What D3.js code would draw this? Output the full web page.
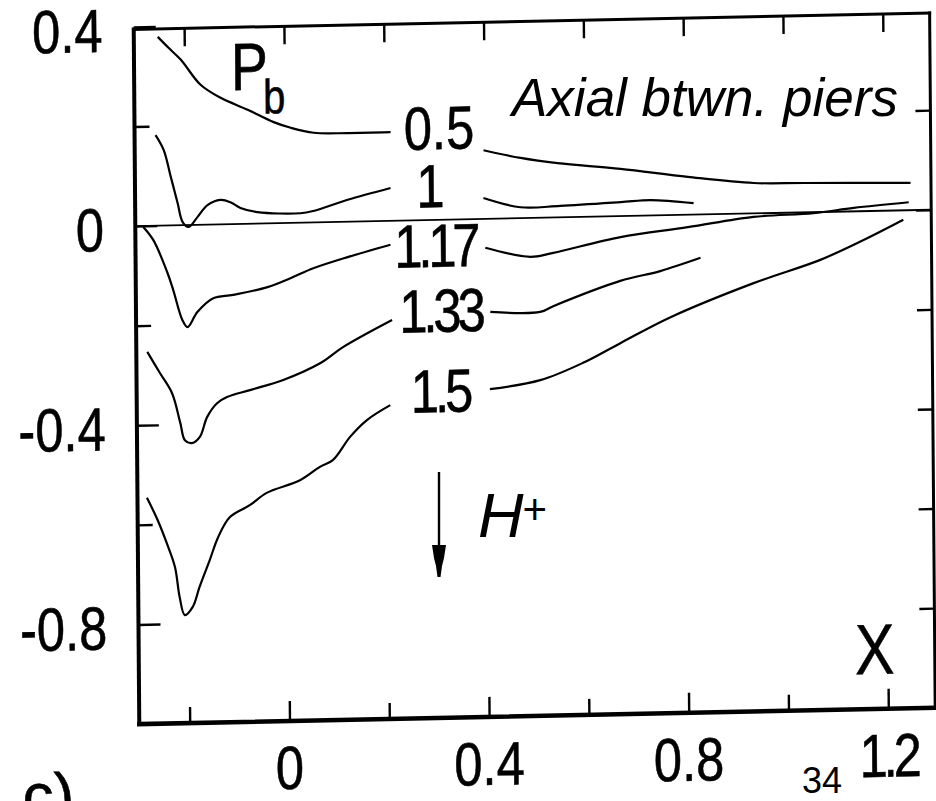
<!DOCTYPE html>
<html>
<head>
<meta charset="utf-8">
<script src="https://cdn.jsdelivr.net/npm/d3@7"></script>
<style>
  html, body { margin: 0; padding: 0; background: #fff; overflow: hidden; }
  svg { display: block; }
  .scan { font-family: "Liberation Sans", Arial, Helvetica, sans-serif; fill: #000; stroke: #000; stroke-width: 0.6px; }
  .slide { font-family: "Liberation Sans", Arial, Helvetica, sans-serif; fill: #000; }
</style>
</head>
<body>
<svg id="chart" width="936" height="801"></svg>
<script>
// Base pressure Pb along the axis between the piers, one curve per H value.
// null entries mark where the curve is interrupted by its inline label.
const p05X = [-0.253, -0.231, -0.207, -0.168, -0.128, -0.074, -0.022, 0.012, 0.058, 0.126, 0.212, null,
              0.398, 0.472, 0.546, 0.672, 0.807, 0.939, 1.039, 1.253];
const p05Y = [0.379, 0.356, 0.332, 0.281, 0.254, 0.229, 0.203, 0.191, 0.180, 0.178, 0.178, null,
              0.138, 0.121, 0.109, 0.095, 0.076, 0.061, 0.059, 0.055];

const p10X = [-0.259, -0.243, -0.229, -0.216, -0.206, -0.194, -0.176, -0.156, -0.130, -0.110, -0.090, -0.056,
              0.030, 0.056, 0.125, 0.211, null, 0.397, 0.471, 0.551, 0.672, 0.732, 0.818];
const p10Y = [0.182, 0.152, 0.097, 0.045, 0.006, -0.004, 0.016, 0.039, 0.049, 0.044, 0.032, 0.023,
              0.019, 0.023, 0.044, 0.066, null, 0.042, 0.022, 0.023, 0.028, 0.031, 0.023];

const p117X = [-0.285, -0.265, -0.237, -0.226, -0.208, -0.198, -0.178, -0.146, -0.106, -0.037, 0.009, 0.055,
               0.124, 0.210, null, 0.400, 0.490, 0.536, 0.671, 0.806, 0.938, 1.058, 1.139, 1.249];
const p117Y = [-0.002, -0.029, -0.096, -0.130, -0.191, -0.205, -0.175, -0.148, -0.142, -0.128, -0.111, -0.092,
               -0.071, -0.048, null, -0.058, -0.078, -0.071, -0.042, -0.025, -0.007, -0.002, 0.007, 0.016];

const p133X = [-0.279, -0.254, -0.230, -0.214, -0.205, -0.191, -0.175, -0.160, -0.140, -0.120, -0.074, -0.007,
               0.067, 0.114, 0.212, null, 0.409, 0.509, 0.535, 0.670, 0.750, 0.831];
const p133Y = [-0.253, -0.296, -0.337, -0.397, -0.432, -0.438, -0.426, -0.386, -0.359, -0.347, -0.334, -0.315,
               -0.283, -0.251, -0.199, null, -0.187, -0.189, -0.178, -0.130, -0.112, -0.087];

const p150X = [-0.282, -0.261, -0.243, -0.227, -0.218, -0.208, -0.192, -0.178, -0.157, -0.140, -0.116, -0.076,
               -0.042, 0.025, 0.065, 0.091, 0.126, 0.160, 0.207, null,
               0.407, 0.508, 0.594, 0.669, 0.770, 0.937, 1.071, 1.158, 1.238];
const p150Y = [-0.546, -0.591, -0.638, -0.686, -0.747, -0.783, -0.767, -0.727, -0.673, -0.628, -0.588, -0.565,
               -0.541, -0.517, -0.491, -0.478, -0.432, -0.399, -0.370, null,
               -0.342, -0.326, -0.293, -0.255, -0.205, -0.140, -0.096, -0.058, -0.019];

// Inline curve labels (H values) and where they sit, in data units
const labelText = ["0.5", "1", "1.17", "1.33", "1.5"];
const labelX = [0.309, 0.287, 0.300, 0.309, 0.307];
const labelY = [0.186, 0.070, -0.050, -0.181, -0.342];

// Axis ticks and their labels
const xMajorTicks = [0, 0.4, 0.8, 1.2];
const xMinorTicks = [-0.2, 0.2, 0.6, 1.0];
const xTickLabels = ["0", "0.4", "0.8", "1.2"];
const yMajorTicks = [0.4, 0, -0.4, -0.8];
const yMinorTicks = [0.2, -0.2, -0.6];
const yTickLabels = ["0.4", "0", "-0.4", "-0.8"];
const yRightTicks = [0.2, 0, -0.2, -0.4, -0.6, -0.8];

const series = [
  { xs: p05X, ys: p05Y },
  { xs: p10X, ys: p10Y },
  { xs: p117X, ys: p117Y },
  { xs: p133X, ys: p133Y },
  { xs: p150X, ys: p150Y }
];

const svg = d3.select("#chart");
svg.append("rect").attr("width", 936).attr("height", 801).attr("fill", "#fff");

const xScale = d3.scaleLinear().domain([-0.301, 1.294]).range([135.3, 931.2]);
const yScale = d3.scaleLinear().domain([-1.0, 0.395]).range([721, 26.3]);

// The scanned plot sits slightly tilted on the page
const plot = svg.append("g")
  .attr("transform", "matrix(1,-0.0205,0.008,1,-1.784,5.853)");

const [x0, x1] = xScale.range();
const [yb, yt] = yScale.range();

// The plot's lettering is a condensed grotesque: squeeze it horizontally
const NARROW = 0.83;
const at = (x, y) => `translate(${x},${y}) scale(${NARROW},1)`;
// its "1" glyphs are especially tight
const spacing = t => (t.startsWith("1") ? "-0.08em" : "0");

// Frame
const frame = plot.append("g").attr("stroke", "#000").attr("stroke-linecap", "square");
frame.append("line").attr("x1", x0).attr("x2", x0).attr("y1", yt).attr("y2", yb).attr("stroke-width", 4);
frame.append("line").attr("x1", x0).attr("x2", x1).attr("y1", yb).attr("y2", yb).attr("stroke-width", 4.5);
frame.append("line").attr("x1", x0).attr("x2", x1).attr("y1", yt).attr("y2", yt).attr("stroke-width", 3);
frame.append("line").attr("x1", x1).attr("x2", x1).attr("y1", yt).attr("y2", yb).attr("stroke-width", 3);

// Inward ticks on all four sides
function tickAxis(axis, tx, ty) {
  const g = plot.append("g").attr("transform", `translate(${tx},${ty})`).call(axis);
  g.select(".domain").remove();
  g.selectAll(".tick line").attr("stroke", "#000").attr("stroke-width", 2.4);
  g.selectAll(".tick text").remove();
  return g;
}
tickAxis(d3.axisBottom(xScale).tickValues(xMajorTicks).tickSize(-20).tickFormat(""), 0, yb);
tickAxis(d3.axisBottom(xScale).tickValues(xMinorTicks).tickSize(-16).tickFormat(""), 0, yb);
tickAxis(d3.axisTop(xScale).tickValues(xMajorTicks.concat(xMinorTicks)).tickSize(-18).tickFormat(""), 0, yt);
tickAxis(d3.axisLeft(yScale).tickValues(yMajorTicks).tickSize(-22).tickFormat(""), x0, 0);
tickAxis(d3.axisLeft(yScale).tickValues(yMinorTicks).tickSize(-15).tickFormat(""), x0, 0);
tickAxis(d3.axisRight(yScale).tickValues(yRightTicks).tickSize(-15).tickFormat(""), x1, 0);

// Tick labels
plot.append("g").selectAll("text").data(yMajorTicks).join("text")
  .attr("class", "scan")
  .attr("transform", d => at(104, yScale(d)))
  .attr("dy", "0.4em")
  .attr("text-anchor", "end")
  .attr("font-size", 61)
  .text((d, i) => yTickLabels[i]);

plot.append("g").selectAll("text").data(xMajorTicks).join("text")
  .attr("class", "scan")
  .attr("transform", d => at(xScale(d), yb + 68))
  .attr("text-anchor", "middle")
  .attr("font-size", 61)
  .attr("letter-spacing", (d, i) => spacing(xTickLabels[i]))
  .text((d, i) => xTickLabels[i]);

// Zero reference line
plot.append("line")
  .attr("x1", x0).attr("x2", x1)
  .attr("y1", yScale(0)).attr("y2", yScale(0))
  .attr("stroke", "#000").attr("stroke-width", 1.8);

// Curves
const line = d3.line()
  .defined(d => d[0] !== null && d[1] !== null)
  .x(d => xScale(d[0]))
  .y(d => yScale(d[1]))
  .curve(d3.curveCatmullRom.alpha(0.5));

plot.append("g").selectAll("path").data(series).join("path")
  .attr("d", s => line(s.xs.map((x, i) => [x, s.ys[i]])))
  .attr("fill", "none")
  .attr("stroke", "#000")
  .attr("stroke-width", 2.2)
  .attr("stroke-linejoin", "round");

// Inline H labels
plot.append("g").selectAll("text").data(labelText).join("text")
  .attr("class", "scan")
  .attr("transform", (d, i) => at(xScale(labelX[i]), yScale(labelY[i])))
  .attr("dy", "0.36em")
  .attr("text-anchor", "middle")
  .attr("font-size", 61)
  .attr("letter-spacing", d => spacing(d))
  .text(d => d);

// Axis titles
const pb = plot.append("text").attr("class", "scan")
  .attr("transform", at(xScale(-0.107), yScale(0.269)))
  .attr("font-size", 67);
pb.append("tspan").text("P");
pb.append("tspan").attr("font-size", 48).attr("dx", -6).attr("dy", 24).text("b");

plot.append("text").attr("class", "scan")
  .attr("transform", at(xScale(1.174), yScale(-0.878)))
  .attr("dy", "0.36em")
  .attr("text-anchor", "middle")
  .attr("font-size", 71)
  .text("X");

plot.append("text").attr("class", "scan")
  .attr("x", 18).attr("y", 812)
  .attr("font-size", 62)
  .text("c)");

// Direction of increasing H
svg.append("line")
  .attr("x1", 439).attr("x2", 439).attr("y1", 472).attr("y2", 548)
  .attr("stroke", "#000").attr("stroke-width", 2.4);
svg.append("path")
  .attr("d", "M432,545 L446,545 L444,558 L442,566 L440.5,577 L437.5,577 L436,566 L434,558 Z")
  .attr("fill", "#000");

// Slide annotations
svg.append("text").attr("class", "slide")
  .attr("x", 512).attr("y", 116)
  .attr("font-size", 53).attr("font-style", "italic")
  .text("Axial btwn. piers");

const hp = svg.append("text").attr("class", "slide")
  .attr("x", 478).attr("y", 537)
  .attr("font-size", 63);
hp.append("tspan").attr("font-style", "italic").text("H");
hp.append("tspan").attr("font-size", 42).attr("dy", -13).attr("dx", -1).text("+");

svg.append("text").attr("class", "slide")
  .attr("x", 802).attr("y", 793)
  .attr("font-size", 36)
  .text("34");
</script>
</body>
</html>
